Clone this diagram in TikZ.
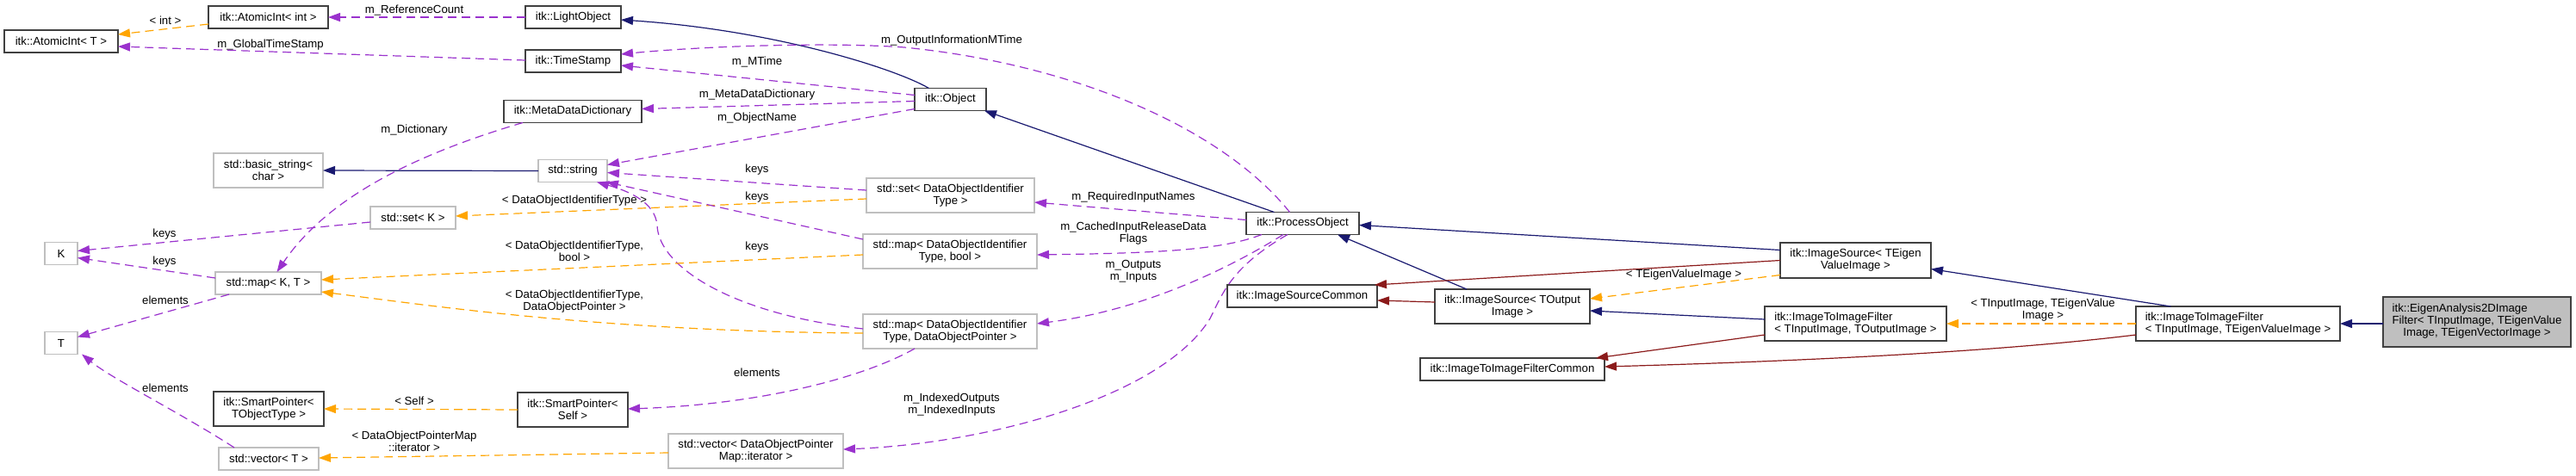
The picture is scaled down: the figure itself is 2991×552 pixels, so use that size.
\documentclass[tikz,border=0pt]{standalone}
\usepackage{fontspec}
\setmainfont{Liberation Sans}
\usetikzlibrary{arrows.meta,calc}
\definecolor{navy}{HTML}{191970}
\definecolor{orch}{HTML}{9A32CD}
\definecolor{orng}{HTML}{FFA500}
\definecolor{fbrick}{HTML}{8B1A1A}
\definecolor{lgray}{HTML}{BFBFBF}
\newcommand\dxfont{\fontsize{13.2}{14}\selectfont}
\tikzset{
  cls/.style={draw=black!75, line width=1.2pt, fill=white, inner sep=0pt, outer sep=0pt, font=\dxfont, align=center},
  ext/.style={cls, draw=lgray},
  focus/.style={cls, fill=lgray},
  sz/.style 2 args={minimum width=#1pt, minimum height=#2pt},
  lbl/.style={font=\dxfont, align=center, inner sep=0pt},
  edgeline/.style={line width=1.2pt, -{Triangle[length=14pt,width=10pt]}},
  inh/.style={edgeline, navy},
  use/.style={edgeline, orch, dash pattern=on 10pt off 6pt},
  tmpl/.style={edgeline, orng, dash pattern=on 10pt off 6pt},
  prot/.style={edgeline, fbrick}
}
\begin{document}
\begin{tikzpicture}[x=1pt,y=-1pt]
\useasboundingbox (0,0) rectangle (2991,552);
% nodes
\node[cls, sz={132}{26}] (aiT) at (71,48) {itk::AtomicInt< T >};
\node[cls, sz={139}{26}] (aiint) at (311.5,20) {itk::AtomicInt< int >};
\node[cls, sz={111}{26}] (lo) at (665.5,20) {itk::LightObject};
\node[cls, sz={111}{26}] (ts) at (665.5,71) {itk::TimeStamp};
\node[cls, sz={160}{26}] (mdd) at (665,129.5) {itk::MetaDataDictionary};
\node[ext, sz={80}{26}] (str) at (665,198.5) {std::string};
\node[ext, sz={127}{40}] (bstr) at (311.5,198) {std::basic\_string<\\char >};
\node[ext, sz={99}{26}] (setK) at (479.5,253) {std::set< K >};
\node[ext, sz={38}{26}] (K) at (71,294.5) {K};
\node[ext, sz={123}{26}] (mapKT) at (311.5,329) {std::map< K, T >};
\node[ext, sz={38}{26}] (T) at (71,398.5) {T};
\node[cls, sz={128}{40}] (spT) at (312,475) {itk::SmartPointer<\\TObjectType >};
\node[ext, sz={116}{26}] (vecT) at (312,533) {std::vector< T >};
\node[cls, sz={83}{26}] (obj) at (1103.5,115.5) {itk::Object};
\node[ext, sz={195}{40}] (setD) at (1103.5,227) {std::set< DataObjectIdentifier\\Type >};
\node[ext, sz={202}{40}] (mapDB) at (1103,292) {std::map< DataObjectIdentifier\\Type, bool >};
\node[ext, sz={202}{40}] (mapDP) at (1103,385) {std::map< DataObjectIdentifier\\Type, DataObjectPointer >};
\node[cls, sz={128}{40}] (spS) at (665,476) {itk::SmartPointer<\\Self >};
\node[ext, sz={203}{40}] (vecD) at (877.5,524) {std::vector< DataObjectPointer\\Map::iterator >};
\node[cls, sz={131}{26}] (po) at (1512.5,259.5) {itk::ProcessObject};
\node[cls, sz={174}{26}] (isc) at (1512,344) {itk::ImageSourceCommon};
\node[cls, sz={180}{40}] (isO) at (1756,356) {itk::ImageSource< TOutput\\Image >};
\node[cls, sz={214}{26}] (itifc) at (1756,429) {itk::ImageToImageFilterCommon};
\node[cls, sz={175}{41}] (isE) at (2154.5,302.5) {itk::ImageSource< TEigen\\ValueImage >};
\node[cls, sz={211}{40}, align=left] (itifO) at (2154.5,376) {itk::ImageToImageFilter\\< TInputImage, TOutputImage >};
\node[cls, sz={237}{40}, align=left] (itifE) at (2598.5,376) {itk::ImageToImageFilter\\< TInputImage, TEigenValueImage >};
\node[focus, sz={218}{58}] (eig) at (2876,374) {\begin{tabular}{@{}l@{}}itk::EigenAnalysis2DImage\\Filter< TInputImage, TEigenValue\\\multicolumn{1}{@{}c@{}}{Image, TEigenVectorImage >}\end{tabular}};
% labels
\node[lbl] (l1) at (192,24) {< int >};
\node[lbl] (l2) at (481,12) {m\_ReferenceCount};
\node[lbl] (l3) at (314,52) {m\_GlobalTimeStamp};
\node[lbl] (l4) at (481,151) {m\_Dictionary};
\node[lbl] (l5) at (191,272) {keys};
\node[lbl] (l6) at (191,304) {keys};
\node[lbl] (l7) at (192,349) {elements};
\node[lbl] (l8) at (192,451) {elements};
\node[lbl] (l9) at (481,466) {< Self >};
\node[lbl] (l10) at (481,513) {< DataObjectPointerMap\\::iterator >};
\node[lbl] (l11) at (879,72) {m\_MTime};
\node[lbl] (l12) at (879,110) {m\_MetaDataDictionary};
\node[lbl] (l13) at (879,137) {m\_ObjectName};
\node[lbl] (l14) at (879,197) {keys};
\node[lbl] (l15) at (879,229) {keys};
\node[lbl] (l16) at (667,233) {< DataObjectIdentifierType >};
\node[lbl] (l17) at (667,292) {< DataObjectIdentifierType,\\bool >};
\node[lbl] (l18) at (879,287) {keys};
\node[lbl] (l19) at (667,350) {< DataObjectIdentifierType,\\DataObjectPointer >};
\node[lbl] (l20) at (879,433) {elements};
\node[lbl] (l21) at (1105,47) {m\_OutputInformationMTime};
\node[lbl] (l22) at (1316,229) {m\_RequiredInputNames};
\node[lbl] (l23) at (1316,271) {m\_CachedInputReleaseData\\Flags};
\node[lbl] (l24) at (1316,315) {m\_Outputs\\m\_Inputs};
\node[lbl] (l25) at (1105,470) {m\_IndexedOutputs\\m\_IndexedInputs};
\node[lbl] (l26) at (1955,319) {< TEigenValueImage >};
\node[lbl] (l27) at (2372,360) {< TInputImage, TEigenValue\\Image >};
% edges
\draw[tmpl] ($(aiint.west)+(0,8)$) -- ($(aiT.east)+(0,-8)$);
\draw[use] (lo.west) -- (aiint.east);
\draw[use] ($(ts.west)+(0,-1)$) -- ($(aiT.east)+(0,6)$);
\draw[inh] ($(obj.north)+(-25,0)$) .. controls (1040,80) and (900,35) .. ($(lo.east)+(0,3)$);
\draw[use] ($(po.north)+(-15,0)$) .. controls (1420,150) and (1250,75) .. (1050,55) .. controls (950,48) and (800,55) .. ($(ts.east)+(0,-8)$);
\draw[use] ($(obj.west)+(0,-5)$) -- ($(ts.east)+(0,5)$);
\draw[use] ($(obj.west)+(0,2)$) -- ($(mdd.east)+(0,-3)$);
\draw[use] ($(obj.west)+(0,11)$) -- ($(str.east)+(0,-7)$);
\draw[inh] (str.west) -- (bstr.east);
\draw[use] ($(mdd.south west)+(22,0)$) .. controls (480,180) and (380,230) .. ($(mapKT.north)+(10,0)$);
\draw[use] ($(setK.west)+(0,5)$) -- ($(K.east)+(0,-3)$);
\draw[use] ($(mapKT.west)+(0,-6)$) -- ($(K.east)+(0,5)$);
\draw[use] ($(mapKT.south west)+(16,0)$) -- ($(T.east)+(0,-7)$);
\draw[use] ($(vecT.north)+(-40,0)$) .. controls (210,480) and (130,440) .. ($(T.south east)+(5,0)$);
\draw[tmpl] ($(setD.west)+(0,4)$) -- ($(setK.east)+(0,-2)$);
\draw[use] ($(setD.west)+(0,-6)$) -- ($(str.east)+(0,2)$);
\draw[use] ($(mapDB.west)+(0,-14)$) -- ($(str.south east)+(-1,0)$);
\draw[use] ($(mapDP.west)+(0,-3)$) .. controls (850,365) and (765,310) .. (763,262) .. controls (761,235) and (730,222) .. ($(str.south east)+(-12,0)$);
\draw[tmpl] ($(mapDB.west)+(0,4)$) -- ($(mapKT.east)+(0,-4)$);
\draw[tmpl] ($(mapDP.west)+(0,2)$) .. controls (700,385) and (500,355) .. ($(mapKT.east)+(0,10)$);
\draw[use] ($(mapDP.south west)+(60,0)$) .. controls (1000,440) and (880,470) .. ($(spS.east)+(0,-1)$);
\draw[tmpl] (spS.west) -- (spT.east);
\draw[tmpl] ($(vecD.west)+(0,2)$) -- ($(vecT.east)+(0,-1)$);
\draw[inh] ($(po.north)+(-33,0)$) -- ($(obj.south east)+(-2,0)$);
\draw[use] ($(po.west)+(0,-4)$) -- ($(setD.east)+(0,8)$);
\draw[use] ($(po.south west)+(18,0)$) .. controls (1420,290) and (1350,294) .. ($(mapDB.east)+(0,4)$);
\draw[use] ($(po.south west)+(43,0)$) .. controls (1430,310) and (1330,360) .. ($(mapDP.east)+(0,-9)$);
\draw[use] ($(po.south west)+(48,0)$) .. controls (1430,310) and (1420,340) .. (1405,370) .. controls (1350,460) and (1150,515) .. ($(vecD.east)+(0,-2)$);
\draw[inh] ($(isO.north)+(-53,0)$) -- ($(po.south east)+(-25,0)$);
\draw[prot] ($(isO.west)+(0,-5)$) -- ($(isc.east)+(0,5)$);
\draw[inh] ($(isE.west)+(0,-12)$) -- ($(po.east)+(0,2)$);
\draw[prot] (isE.west) -- ($(isc.north east)+(-3,0)$);
\draw[tmpl] ($(isE.west)+(0,17)$) -- ($(isO.east)+(0,-9)$);
\draw[inh] ($(itifO.west)+(0,-5)$) -- ($(isO.east)+(0,5)$);
\draw[prot] ($(itifO.west)+(0,13)$) -- ($(itifc.north east)+(-10,0)$);
\draw[inh] ($(itifE.north)+(-78,0)$) -- ($(isE.east)+(0,10)$);
\draw[tmpl] (itifE.west) -- (itifO.east);
\draw[prot] ($(itifE.west)+(0,13)$) .. controls (2350,405) and (2150,418) .. ($(itifc.east)+(0,-3)$);
\draw[inh] ($(eig.west)+(0,2)$) -- (itifE.east);
\end{tikzpicture}
\end{document}
